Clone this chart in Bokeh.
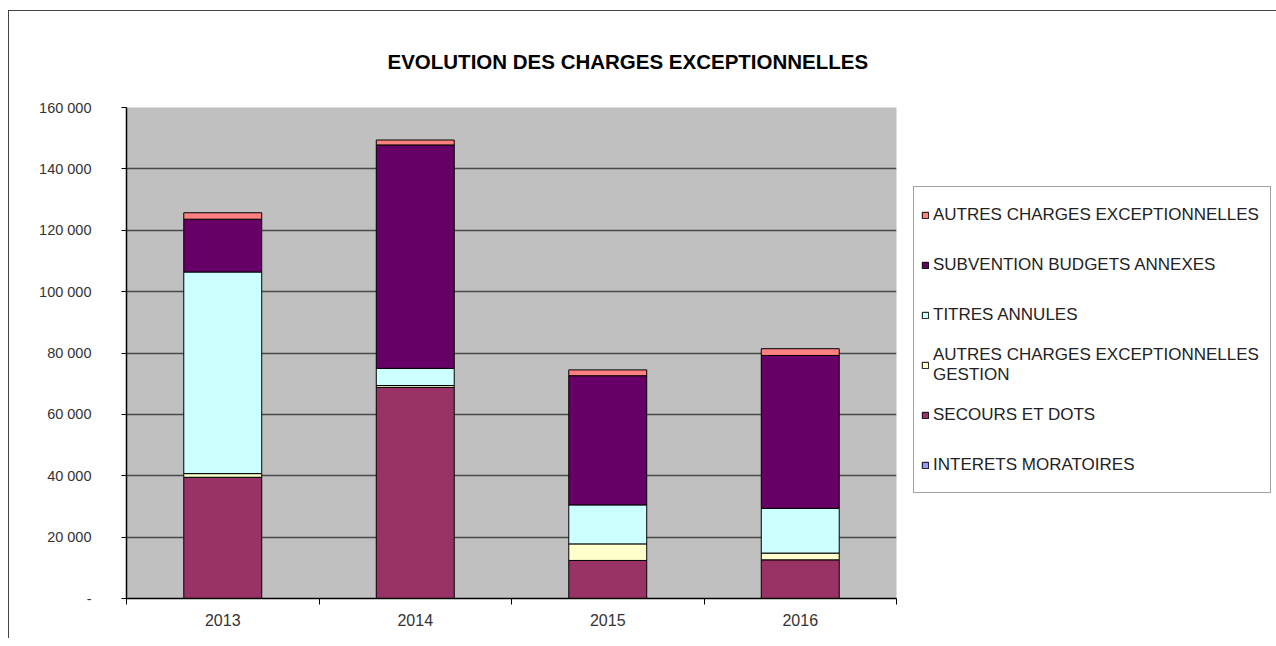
from bokeh.plotting import figure
from bokeh.models import (Range1d, LinearAxis, FixedTicker,
                          Legend, LegendItem, ColumnDataSource)
from bokeh.embed import file_html
from bokeh.resources import INLINE

years = ["2013", "2014", "2015", "2016"]
interets = [0, 0, 0, 0]
secours = [39500, 68800, 12400, 12600]
gestion = [1200, 600, 5400, 2200]
titres = [65700, 5600, 12700, 14600]
subvention = [17200, 72800, 42100, 49800]
autres = [2100, 1600, 1900, 2200]

series = ["interets", "secours", "gestion", "titres", "subvention", "autres"]
labels = {
    "interets": "INTERETS MORATOIRES",
    "secours": "SECOURS ET DOTS",
    "gestion": "AUTRES CHARGES EXCEPTIONNELLES\nGESTION",
    "titres": "TITRES ANNULES",
    "subvention": "SUBVENTION BUDGETS ANNEXES",
    "autres": "AUTRES CHARGES EXCEPTIONNELLES",
}
colors = ["#9999FF", "#993366", "#FFFFCC", "#CCFFFF", "#660066", "#FF8080"]
y_ticks = [0, 20000, 40000, 60000, 80000, 100000, 120000, 140000, 160000]

# category slot centres (index + 0.5) on a numeric axis so ticks can sit between slots
xpos = [i + 0.5 for i in range(len(years))]
src = ColumnDataSource(dict(x=xpos, interets=interets, secours=secours, gestion=gestion,
                            titres=titres, subvention=subvention, autres=autres))

p = figure(frame_width=770, frame_height=491, x_range=Range1d(0, len(years)),
           y_range=Range1d(0, 160000), output_backend="svg", toolbar_location=None,
           x_axis_location=None, min_border_left=117, min_border_right=0,
           min_border_top=96, min_border_bottom=40,
           title="EVOLUTION DES CHARGES EXCEPTIONNELLES")
p.margin = (10, 0, 0, 8)
p.background_fill_color = "#C0C0C0"
p.border_fill_color = "white"
p.outline_line_color = None
p.styles = {"border-left": "1px solid #444", "border-top": "1px solid #444"}

p.title.align = "left"
p.title.offset = 261
p.title.standoff = 70
p.title.text_font = "Liberation Sans"
p.title.text_font_style = "bold"
p.title.text_font_size = "20.5px"
p.title.text_color = "black"

rs = p.vbar_stack(series, x="x", width=0.405, source=src, color=colors,
                  line_color="black", line_width=1)

# y axis
p.yaxis.ticker = FixedTicker(ticks=y_ticks)
p.yaxis.major_label_overrides = {t: ("-" if t == 0 else f"{t:,}".replace(",", " ")) for t in y_ticks}
p.yaxis.axis_line_color = "black"
p.yaxis.axis_line_width = 1.5
p.yaxis.major_tick_out = 5
p.yaxis.major_tick_in = 0
p.yaxis.minor_tick_line_color = None
p.yaxis.major_label_standoff = 30
p.yaxis.major_label_text_font = "Liberation Sans"
p.yaxis.major_label_text_font_size = "14.5px"
p.yaxis.major_label_text_color = "#333333"

p.ygrid.ticker = FixedTicker(ticks=y_ticks)
p.ygrid.grid_line_color = "#4a4a4a"
p.ygrid.grid_line_width = 1.5
p.xgrid.grid_line_color = None

# x axes: boundary ticks + category labels
edge_axis = LinearAxis(ticker=FixedTicker(ticks=list(range(len(years) + 1))),
                       major_tick_out=6, major_tick_in=0,
                       major_label_overrides={i: "" for i in range(len(years) + 1)},
                       major_label_standoff=0, minor_tick_line_color=None,
                       axis_line_color="black", axis_line_width=1.5)
p.add_layout(edge_axis, "below")
cat_axis = LinearAxis(ticker=FixedTicker(ticks=xpos),
                      major_label_overrides={x: y for x, y in zip(xpos, years)},
                      axis_line_color=None, major_tick_line_color=None, major_tick_out=0,
                      minor_tick_line_color=None,
                      major_label_standoff=9, major_label_text_font="Liberation Sans",
                      major_label_text_font_size="16px", major_label_text_color="#333333")
p.add_layout(cat_axis, "below")

# legend (top to bottom: reverse of stack order)
items = [LegendItem(label=labels[s], renderers=[r]) for s, r in zip(series, rs)][::-1]
legend = Legend(items=items, location=(17, 105), orientation="vertical",
                border_line_color="#444444", border_line_width=1.5,
                background_fill_color="white", background_fill_alpha=1,
                label_text_font="Liberation Sans", label_text_font_size="17px",
                label_text_color="#222222", glyph_width=8, glyph_height=8,
                label_standoff=4, label_height=41, label_width=330,
                spacing=9, padding=7, margin=0)
p.add_layout(legend, "right")

open("out.html", "w").write(file_html(p, INLINE))
